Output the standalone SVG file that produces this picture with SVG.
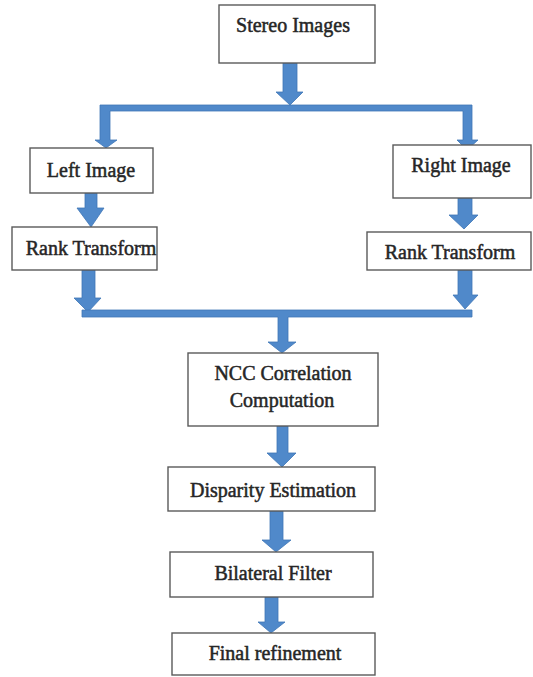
<svg xmlns="http://www.w3.org/2000/svg" width="533" height="677" viewBox="0 0 533 677">
  <style>
    .box { fill: #ffffff; stroke: #5a5a5a; stroke-width: 1.4; }
    .label { font-family: "Liberation Serif", "Times New Roman", serif; font-size: 20px; fill: #262626; stroke: #262626; stroke-width: 0.5; text-anchor: middle; }
    .flow { fill: #5089ca; stroke: #3f76b6; stroke-width: 0.8; stroke-linejoin: miter; }
  </style>
  <rect width="533" height="677" fill="#ffffff"/>

  <!-- block-arrow connectors -->
  <g id="connectors">
    <!-- split: stereo images to left and right -->
    <path class="flow" d="M283,63 H297 V92 H303 L290,105 L276,92 H283 Z"/>
    <path class="flow" d="M100,105 H472 V140 H478 L467,150 L457,140 H463 V111 H110 V140 H117 L106,148 L95,140 H100 Z"/>
    <!-- left chain -->
    <path class="flow" d="M85,193 H97 V208 H104 L91,227 L77,208 H85 Z"/>
    <path class="flow" d="M82,270 H95 V298 H101 L88,312 L74,298 H82 Z"/>
    <!-- right chain -->
    <path class="flow" d="M458,198 H472 V215 H478 L464,229 L449,215 H458 Z"/>
    <path class="flow" d="M458,270 H472 V295 H478 L465,309 L453,295 H458 Z"/>
    <!-- merge bar and centre chain -->
    <path class="flow" d="M82,310 H472 V317 H288 V342 H296 L282,353 L268,342 H278 V317 H82 Z"/>
    <path class="flow" d="M277,426 H288 V453 H296 L282,467 L267,453 H277 Z"/>
    <path class="flow" d="M270,511 H283 V540 H291 L276,552 L262,540 H270 Z"/>
    <path class="flow" d="M265,597 H278 V622 H285 L271,633 L258,622 H265 Z"/>
  </g>

  <g id="stereo-images">
    <rect class="box" x="219" y="5" width="156" height="58"/>
    <text class="label" x="293" y="32">Stereo Images</text>
  </g>

  <g id="left-image">
    <rect class="box" x="30" y="148" width="123" height="45"/>
    <text class="label" x="91" y="177">Left Image</text>
  </g>

  <g id="left-rank-transform">
    <rect class="box" x="12" y="227" width="145" height="43"/>
    <text class="label" x="91" y="255">Rank Transform</text>
  </g>

  <g id="right-image">
    <rect class="box" x="393" y="145" width="138" height="53"/>
    <text class="label" x="461" y="172">Right Image</text>
  </g>

  <g id="right-rank-transform">
    <rect class="box" x="367" y="232" width="164" height="38"/>
    <text class="label" x="450" y="259">Rank Transform</text>
  </g>

  <g id="ncc-correlation">
    <rect class="box" x="188" y="353" width="190" height="73"/>
    <text class="label" x="283" y="380">NCC Correlation</text>
    <text class="label" x="282" y="407">Computation</text>
  </g>

  <g id="disparity-estimation">
    <rect class="box" x="168" y="467" width="207" height="44"/>
    <text class="label" x="273" y="497">Disparity Estimation</text>
  </g>

  <g id="bilateral-filter">
    <rect class="box" x="170" y="552" width="203" height="45"/>
    <text class="label" x="273" y="580">Bilateral Filter</text>
  </g>

  <g id="final-refinement">
    <rect class="box" x="172" y="633" width="203" height="42"/>
    <text class="label" x="275" y="660">Final refinement</text>
  </g>
</svg>
